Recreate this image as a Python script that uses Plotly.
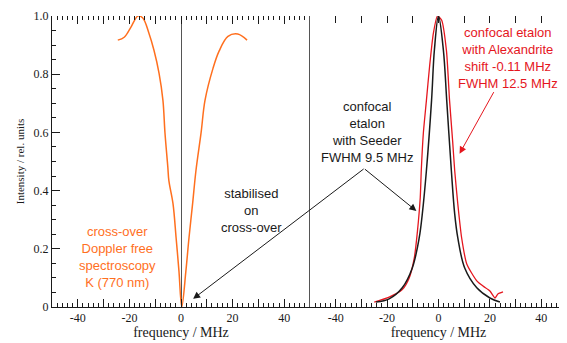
import plotly.graph_objects as go

# Orange: cross-over Doppler free spectroscopy (left panel)
orange_x = [-24.5, -22.0, -19.4, -16.7, -14.8, -12.4, -10.5, -8.5, -7.0, -6.2, -5.1, -4.7, -3.1, -1.9, -0.8, 0.3,
            1.9, 3.1, 4.5, 5.8, 7.8, 9.3, 12.4, 14.8, 18.2, 22.0, 25.6]
orange_y = [0.917, 0.927, 0.962, 1.0, 0.993, 0.94, 0.883, 0.803, 0.71, 0.597, 0.48, 0.434, 0.355, 0.238, 0.124, 0.0,
            0.124, 0.238, 0.355, 0.469, 0.60, 0.71, 0.82, 0.88, 0.93, 0.938, 0.917]

# Black: confocal etalon with Seeder (right panel)
seeder_x = [-24.3, -19.2, -14.1, -10.2, -7.5, -6.3, -4.7, -2.7, -1.6, 0.0, 1.9, 3.2, 5.0, 6.3, 7.5, 10.2, 14.9, 20.0, 23.9]
seeder_y = [0.017, 0.028, 0.066, 0.134, 0.238, 0.32, 0.469, 0.71, 0.883, 1.0, 0.883, 0.71, 0.469, 0.32, 0.238, 0.134, 0.066, 0.031, 0.017]

# Red: confocal etalon with Alexandrite (right panel)
alex_x = [-25.0, -19.2, -14.1, -11.4, -9.4, -8.2, -7.1, -6.7, -5.9, -4.7, -3.5, -2.0, -0.4, 1.2, 3.1, 4.3, 5.5, 6.3,
          7.5, 9.0, 11.0, 14.9, 17.3, 20.0, 22.0, 23.1, 25.1]
alex_y = [0.017, 0.034, 0.06, 0.10, 0.17, 0.26, 0.376, 0.469, 0.597, 0.71, 0.824, 0.94, 1.0, 0.986, 0.88, 0.71, 0.57, 0.469,
          0.355, 0.238, 0.148, 0.09, 0.072, 0.055, 0.031, 0.045, 0.052]

y_label_alias = {"0.0": "0"}
x_label_alias = {"\u221240": "-40", "\u221220": "-20"}

ORANGE = "#FF6F1E"
RED = "#E5161E"
BLACK = "#1a1a1a"
SERIF = "Liberation Serif"
SANS = "Liberation Sans"

fig = go.Figure()
fig.add_trace(go.Scatter(x=orange_x, y=orange_y, mode="lines", line=dict(color=ORANGE, width=1.5, shape="spline"),
                         xaxis="x", yaxis="y", showlegend=False))
fig.add_trace(go.Scatter(x=alex_x, y=alex_y, mode="lines", line=dict(color=RED, width=1.3, shape="spline", smoothing=0.6),
                         xaxis="x2", yaxis="y2", showlegend=False))
fig.add_trace(go.Scatter(x=seeder_x, y=seeder_y, mode="lines", line=dict(color=BLACK, width=1.5, shape="spline"),
                         xaxis="x2", yaxis="y2", showlegend=False))
# empty traces so the extra tick axes are drawn
fig.add_trace(go.Scatter(x=[None], y=[None], xaxis="x3", yaxis="y", showlegend=False, hoverinfo="skip"))
fig.add_trace(go.Scatter(x=[None], y=[None], xaxis="x4", yaxis="y2", showlegend=False, hoverinfo="skip"))
fig.add_trace(go.Scatter(x=[None], y=[None], xaxis="x5", yaxis="y", showlegend=False, hoverinfo="skip"))
fig.add_trace(go.Scatter(x=[None], y=[None], xaxis="x6", yaxis="y2", showlegend=False, hoverinfo="skip"))

common_x = dict(range=[-50, 50], tickmode="linear", tick0=0, dtick=20, labelalias=x_label_alias,
                ticks="inside", ticklen=8, tickcolor=BLACK, tickwidth=1,
                minor=dict(ticks="inside", dtick=2, tick0=0, ticklen=4, tickcolor=BLACK, tickwidth=1, showgrid=False),
                showline=True, linecolor=BLACK, linewidth=1, showgrid=False,
                tickfont=dict(family=SERIF, size=12, color=BLACK),
                title=dict(text="frequency / MHz", font=dict(family=SERIF, size=14, color=BLACK), standoff=0),
                fixedrange=True)
# extra bottom ticks every 10
bottom10 = dict(range=[-50, 50], tickmode="linear", tick0=0, dtick=10, ticks="inside", ticklen=8,
                tickcolor=BLACK, tickwidth=1, showticklabels=False, showline=False, showgrid=False, zeroline=False,
                side="bottom")

D = 258 / 515
fig.update_layout(
    width=559, height=335,
    margin=dict(l=44, r=0, t=8, b=36),
    paper_bgcolor="white", plot_bgcolor="white",
    xaxis=dict(domain=[0, D], anchor="y", zeroline=True, zerolinecolor="#555555", zerolinewidth=1, **common_x),
    xaxis2=dict(domain=[D, 1], anchor="y2", zeroline=False, **common_x),
    xaxis3=dict(overlaying="x", anchor="y", side="top", range=[-50, 50], dtick=10, tick0=0,
                ticks="inside", ticklen=8, tickcolor=BLACK, tickwidth=1, showticklabels=False, showline=False,
                showgrid=False, zeroline=False,
                minor=dict(ticks="inside", dtick=2, tick0=0, ticklen=4, tickcolor=BLACK, tickwidth=1)),
    xaxis4=dict(overlaying="x2", anchor="y2", side="top", range=[-50, 50], dtick=10, tick0=0,
                ticks="inside", ticklen=7, tickcolor=BLACK, tickwidth=1, showticklabels=False, showline=False,
                showgrid=False, zeroline=False),
    xaxis5=dict(overlaying="x", anchor="y", **bottom10),
    xaxis6=dict(overlaying="x2", anchor="y2", **bottom10),
    yaxis=dict(domain=[0, 1], anchor="x", range=[0, 1.0], tickmode="linear", tick0=0, dtick=0.2,
               tickformat=".1f", labelalias=y_label_alias,
               ticks="inside", ticklen=8, tickcolor=BLACK, tickwidth=1,
               minor=dict(ticks="inside", dtick=0.05, tick0=0, ticklen=4, tickcolor=BLACK, tickwidth=1, showgrid=False),
               showline=True, linecolor=BLACK, linewidth=1, showgrid=False, zeroline=False,
               tickfont=dict(family=SERIF, size=12, color=BLACK),
               title=dict(text="Intensity / rel. units", font=dict(family=SERIF, size=11, color=BLACK), standoff=6)),
    yaxis2=dict(domain=[0, 1], anchor="x2", range=[0, 1.0], showticklabels=False, ticks="",
                showline=True, linecolor="#555555", linewidth=1, showgrid=False, zeroline=False),
)

ann_font = dict(family=SANS, size=13)
fig.add_annotation(xref="x", yref="y", x=-24.5, y=0.172, showarrow=False,
                   text="cross-over<br>Doppler free<br>spectroscopy<br>K (770 nm)",
                   font=dict(color=ORANGE, **ann_font), align="center")
fig.add_annotation(xref="x", yref="y", x=27.2, y=0.331, showarrow=False,
                   text="stabilised<br>on<br>cross-over", font=dict(color=BLACK, **ann_font), align="center")
fig.add_annotation(xref="x2", yref="y2", x=-27.8, y=0.60, showarrow=False,
                   text="confocal<br>etalon<br>with Seeder<br>FWHM 9.5 MHz", font=dict(color=BLACK, **ann_font),
                   align="center")
fig.add_annotation(xref="x2", yref="y2", x=27.0, y=0.855, showarrow=False,
                   text="confocal etalon<br>with Alexandrite<br>shift -0.11 MHz<br>FWHM 12.5 MHz",
                   font=dict(color=RED, **ann_font), align="center")

# arrows
fig.add_annotation(xref="x2", yref="y2", x=8.2, y=0.527, ax=35, ay=-63, showarrow=True, text="",
                   arrowhead=2, arrowsize=1.4, arrowwidth=1, arrowcolor=RED)
fig.add_annotation(xref="x2", yref="y2", x=-8.6, y=0.33, ax=-53, ay=-43, showarrow=True, text="",
                   arrowhead=2, arrowsize=1.4, arrowwidth=1, arrowcolor=BLACK)
fig.add_annotation(xref="x", yref="y", x=4.7, y=0.028, ax=172, ay=-131, showarrow=True, text="",
                   arrowhead=2, arrowsize=1.4, arrowwidth=1, arrowcolor=BLACK)

fig.write_html("out.html")
